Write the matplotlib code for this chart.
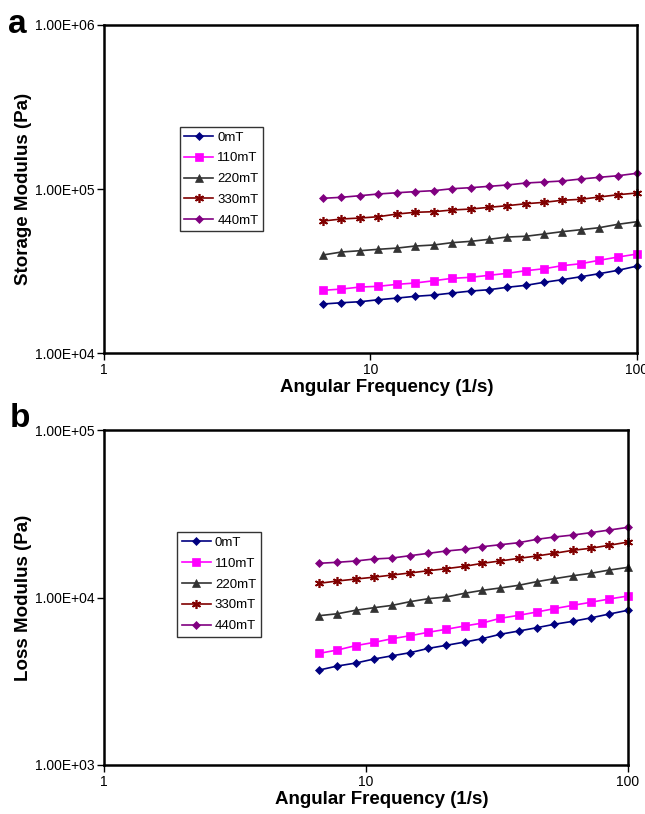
import math

import matplotlib
matplotlib.use('Agg')
import matplotlib.pyplot as plt
from matplotlib.ticker import FixedLocator, FuncFormatter, NullLocator

plt.rcParams['font.family'] = ['Liberation Sans', 'DejaVu Sans']

labels = ['0mT', '110mT', '220mT', '330mT', '440mT']
colors = ['#000080', '#ff00ff', '#333333', '#800000', '#800080']
markers = ['D', 's', '^', (6, 2, 0), 'D']
msizes = [4.2, 5.5, 6, 6.5, 4.2]

freq = [6.63, 7.78, 9.13, 10.7, 12.6, 14.7, 17.3, 20.2, 23.8, 27.8,
        32.5, 38.3, 44.8, 52.3, 61.6, 72.0, 84.8, 100]

storage_0 = [19900, 20260, 20550, 21130, 21640, 22170, 22570, 23210, 23880,
             24320, 25160, 25870, 26990, 27990, 29190, 30450, 31930, 33900]
storage_110 = [24110, 24550, 25250, 25510, 26240, 26720, 27600, 28530, 28960,
               29760, 30610, 31760, 32660, 34070, 35050, 36740, 38480, 40140]
storage_220 = [39600, 41300, 42050, 42900, 43650, 44900, 45580, 47080, 47980,
               49340, 50960, 51500, 53170, 54930, 56470, 58070, 60930, 63190]
storage_330 = [63800, 65640, 66550, 67780, 70410, 72110, 72740, 74470, 75510,
               77310, 79110, 81360, 82940, 85340, 86550, 89360, 92300, 94570]
storage_440 = [87780, 89000, 91060, 93250, 94940, 96370, 97720, 100400, 101900,
               103800, 105800, 108800, 110300, 111900, 115100, 117800, 120500, 124700]

loss_0 = [3690, 3900, 4060, 4290, 4490, 4680, 4970, 5180, 5420,
          5680, 6030, 6310, 6600, 6920, 7210, 7550, 7970, 8390]
loss_110 = [4640, 4860, 5160, 5390, 5680, 5910, 6200, 6460, 6760,
            7040, 7510, 7830, 8190, 8580, 8980, 9360, 9800, 10210]
loss_220 = [7790, 8000, 8390, 8690, 8980, 9440, 9840, 10070, 10600,
            11040, 11400, 11830, 12430, 12950, 13490, 13940, 14590, 15140]
loss_330 = [12160, 12550, 12890, 13220, 13630, 14010, 14460, 14860, 15360,
            16010, 16520, 17140, 17690, 18360, 19140, 19680, 20510, 21440]
loss_440 = [16010, 16230, 16520, 16980, 17210, 17770, 18360, 18950, 19400,
            20110, 20660, 21250, 22250, 22970, 23610, 24380, 25290, 26240]

storage = [storage_0, storage_110, storage_220, storage_330, storage_440]
loss = [loss_0, loss_110, loss_220, loss_330, loss_440]


def sci(v, pos):
    return '1.00E%+03d' % int(round(math.log10(v)))


def setup(ax, ylim, ylabel, letter, letter_y):
    ax.set_xscale('log')
    ax.set_yscale('log')
    ax.set_xlim(1, 100)
    ax.set_ylim(*ylim)
    ax.xaxis.set_major_locator(FixedLocator([1, 10, 100]))
    ax.xaxis.set_minor_locator(NullLocator())
    ax.yaxis.set_minor_locator(NullLocator())
    ax.xaxis.set_major_formatter(FuncFormatter(lambda v, p: '%d' % round(v)))
    ax.yaxis.set_major_formatter(FuncFormatter(sci))
    ax.tick_params(direction='out', length=5, width=1, labelsize=10, pad=2)
    for s in ax.spines.values():
        s.set_linewidth(1.8)
    ax.set_xlabel('Angular Frequency (1/s)', fontsize=13.5, fontweight='bold')
    ax.xaxis.set_label_coords(0.53, -0.078)
    ax.set_ylabel(ylabel, fontsize=13.5, fontweight='bold', labelpad=2)
    ax.text(-0.18, letter_y, letter, transform=ax.transAxes, fontsize=24,
            fontweight='bold', va='center', ha='left')


fig = plt.figure(figsize=(6.45, 8.14), dpi=100)
ax1 = fig.add_axes([0.1612, 0.5663, 0.8264, 0.4030])
ax2 = fig.add_axes([0.1612, 0.0602, 0.8124, 0.4115])

for ax, data in [(ax1, storage), (ax2, loss)]:
    for y, lab, c, m, ms in zip(data, labels, colors, markers, msizes):
        mew = 1.2 if isinstance(m, tuple) else 0.5
        ax.plot(freq, y, color=c, marker=m, markersize=ms, lw=1.2,
                markeredgewidth=mew, markeredgecolor=c, label=lab,
                clip_on=False)

setup(ax1, (1e4, 1e6), 'Storage Modulus (Pa)', 'a', 1.0)
setup(ax2, (1e3, 1e5), 'Loss Modulus (Pa)', 'b', 1.035)

for ax, anchor in [(ax1, (0.142, 0.69)), (ax2, (0.14, 0.695))]:
    leg = ax.legend(loc='upper left', bbox_to_anchor=anchor, fontsize=9.5,
                    frameon=True, fancybox=False, edgecolor='black',
                    handlelength=2.2, borderpad=0.35, labelspacing=0.65,
                    handletextpad=0.3, borderaxespad=0)
    leg.get_frame().set_linewidth(1.0)

fig.savefig('out.png', dpi=100)
